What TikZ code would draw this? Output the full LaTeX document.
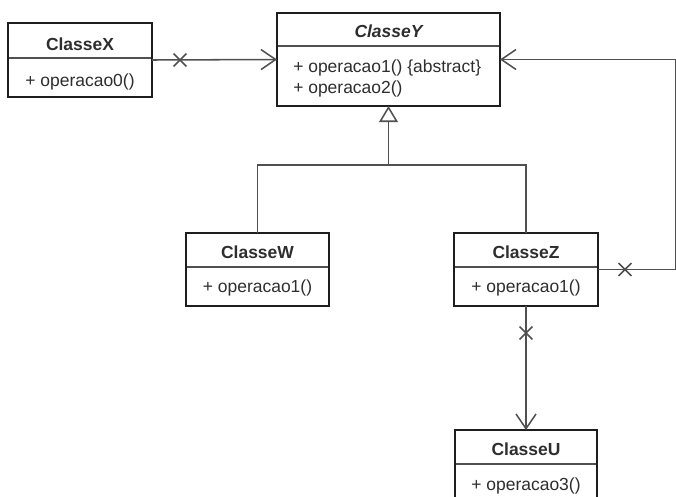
\documentclass[tikz,border=0pt]{standalone}
\usepackage{fontspec}
\setmainfont{Liberation Sans}
\usetikzlibrary{arrows.meta,shapes.misc}
\definecolor{boxc}{HTML}{1E1E1E}
\definecolor{linec}{HTML}{505050}
\definecolor{txtc}{HTML}{2E2E2E}
\tikzset{
  classbox/.style={draw=boxc, line width=2.2pt, fill=white, inner sep=0pt, outer sep=0pt},
  divider/.style={draw=linec, line width=1.1pt},
  conn/.style={draw=linec, line width=1.15pt},
  namet/.style={font=\fontsize{13.1}{15}\selectfont\bfseries, text=txtc, inner sep=0pt, anchor=base},
  opt/.style={font=\fontsize{13.1}{15}\selectfont, text=txtc, inner sep=0pt, anchor=base},
  crossmark/.style={cross out, draw=linec, line width=1.15pt, minimum size=8.5pt, inner sep=0pt},
  navarrow/.style={-{Straight Barb[length=11pt, width=15pt, line width=1.15pt]}},
  genarrow/.style={-{Triangle[open, length=12pt, width=14pt, line width=1.15pt, fill=white]}}
}
\begin{document}
\begin{tikzpicture}[x=0.75pt, y=-0.75pt]
\useasboundingbox (0,0) rectangle (676,497);
\begin{scope}
\clip (0,0) rectangle (676,497);
\fill[white] (0,0) rectangle (676,497);
% boxes
\node[classbox, minimum width=108pt, minimum height=55.5pt] (X) at (80,60) {};
\node[classbox, minimum width=167.25pt, minimum height=69.75pt] (Y) at (388.5,59.5) {};
\node[classbox, minimum width=107.25pt, minimum height=54.75pt] (W) at (257.5,269.5) {};
\node[classbox, minimum width=108pt, minimum height=54.75pt] (Z) at (526,269.5) {};
\node[classbox, minimum width=106.5pt, minimum height=54.75pt] (U) at (526,466.5) {};
% dividers
\draw[divider] (X.west |- 0,58) -- (X.east |- 0,58);
\draw[divider] (Y.west |- 0,46) -- (Y.east |- 0,46);
\draw[divider] (W.west |- 0,267) -- (W.east |- 0,267);
\draw[divider] (Z.west |- 0,267) -- (Z.east |- 0,267);
\draw[divider] (U.west |- 0,464) -- (U.east |- 0,464);
% redraw borders on top of dividers
\draw[draw=boxc, line width=2.2pt] (X.south west) rectangle (X.north east);
\draw[draw=boxc, line width=2.2pt] (Y.south west) rectangle (Y.north east);
\draw[draw=boxc, line width=2.2pt] (W.south west) rectangle (W.north east);
\draw[draw=boxc, line width=2.2pt] (Z.south west) rectangle (Z.north east);
\draw[draw=boxc, line width=2.2pt] (U.south west) rectangle (U.north east);
% texts
\node[namet] (Xn) at (80,50) {ClasseX};
\node[opt] (Xo) at (80,86) {+ operacao0()};
\node[namet, font=\fontsize{13.1}{15}\selectfont\bfseries\itshape] (Yn) at (388.5,37.5) {ClasseY};
\node[opt, anchor=base west] (Yo1) at (293,72) {+ operacao1() \{abstract\}};
\node[opt, anchor=base west] (Yo2) at (293,93) {+ operacao2()};
\node[namet] (Wn) at (257.5,258.5) {ClasseW};
\node[opt] (Wo) at (257.5,292) {+ operacao1()};
\node[namet] (Zn) at (526,258.5) {ClasseZ};
\node[opt] (Zo) at (526,292) {+ operacao1()};
\node[namet] (Un) at (526,455.5) {ClasseU};
\node[opt] (Uo) at (526,490) {+ operacao3()};
% connectors
\draw[conn, navarrow] (X.east) -- (Y.west);
\node[crossmark] (cx) at (180,60) {};
\coordinate (r1) at (676,269.5);
\coordinate (r2) at (676,59.5);
\draw[conn, navarrow] (Z.east) -- (r1) -- (r2) -- (Y.east);
\node[crossmark] (cz) at (625,269.5) {};
\draw[conn, navarrow] (Z.south) -- (U.north);
\node[crossmark] (cu) at (526,333) {};
\coordinate (g) at (388.5,165);
\draw[conn] (W.north) |- (g) -| (Z.north);
\draw[conn, genarrow] (g) -- (Y.south);
\end{scope}
\end{tikzpicture}
\end{document}
